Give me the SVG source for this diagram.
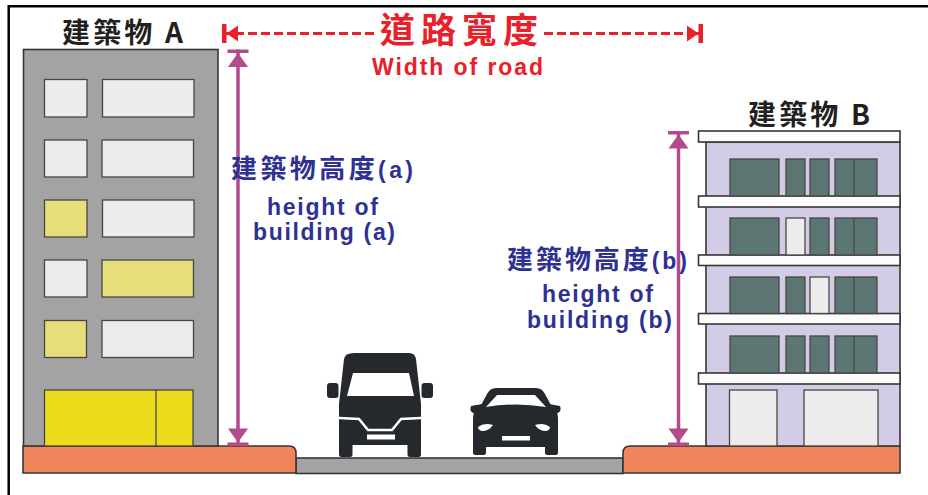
<svg xmlns="http://www.w3.org/2000/svg" width="928" height="495" viewBox="0 0 928 495">
  <style>
    .outline { stroke: #3a3535; stroke-width: 1.6; }
    .win { stroke: #4a4545; stroke-width: 1.3; }
    .w-white { fill: #ececec; }
    .w-pale { fill: #e6de7b; }
    .w-teal { fill: #5b7673; }
    .slab { fill: #fcfcfc; stroke: #3a3535; stroke-width: 1.6; }
    .walk { fill: #f0845a; stroke: #3a3535; stroke-width: 1.6; }
    .vehicle { fill: #25282d; }
    .title { font-family: "Noto Sans CJK TC", "Noto Sans", sans-serif; font-weight: 700; font-size: 28px; fill: #231f20; }
    .road-cn { font-family: "Noto Sans CJK TC", sans-serif; font-weight: 700; font-size: 35px; fill: #e8202a; }
    .road-en { font-family: "Liberation Sans", "Noto Sans", sans-serif; font-weight: 700; font-size: 23px; fill: #e8202a; }
    .h-cn { font-family: "Noto Sans CJK TC", sans-serif; font-weight: 700; font-size: 26px; fill: #2e3192; }
    .h-en { font-family: "Liberation Sans", "Noto Sans", sans-serif; font-weight: 700; font-size: 23px; fill: #2e3192; }
    .dim { stroke: #b24a8b; stroke-width: 3.5; fill: none; }
    .width-line { stroke: #e8202a; stroke-width: 3; stroke-dasharray: 9 4; fill: none; }
  </style>
  <defs>
    <marker id="dim-end" markerUnits="userSpaceOnUse" markerWidth="24" markerHeight="24" viewBox="-20 -12 22 24" refX="0" refY="0" orient="auto-start-reverse" overflow="visible">
      <rect x="-3.5" y="-10.5" width="3.5" height="21" fill="#b24a8b"/>
      <path d="M-3.5,0 L-17.5,-10 L-17.5,10 Z" fill="#b24a8b"/>
    </marker>
    <marker id="road-end" markerUnits="userSpaceOnUse" markerWidth="24" markerHeight="24" viewBox="-20 -12 22 24" refX="0" refY="0" orient="auto-start-reverse" overflow="visible">
      <rect x="-4.5" y="-9.5" width="4.5" height="19" fill="#e8202a"/>
      <path d="M-4.5,0 L-16,-8 L-16,8 Z" fill="#e8202a"/>
    </marker>
  </defs>

  <rect width="928" height="495" fill="#ffffff"/>
  <!-- frame -->
  <path d="M8.7,495 V6.2 H928" fill="none" stroke="#000" stroke-width="2.5"/>

  <!-- road surface and sidewalks -->
  <g id="road">
    <rect x="296" y="458" width="327" height="15.5" fill="#a3a3a3" stroke="#3a3535" stroke-width="1.6"/>
    <path class="walk" d="M23,446 H289 Q296,446 296,453 V473 H23 Z"/>
    <path class="walk" d="M623,473 V453 Q623,446 630,446 H900 V473 Z"/>
  </g>

  <!-- building A -->
  <g id="building-a">
    <rect x="23.5" y="49.5" width="194.5" height="396.5" fill="#a3a3a3" class="outline"/>
    <rect class="win w-white" x="44.5" y="79.5" width="42.5" height="37.5"/>
    <rect class="win w-white" x="102.5" y="79.5" width="91.5" height="37.5"/>
    <rect class="win w-white" x="44.5" y="140" width="42.5" height="37"/>
    <rect class="win w-white" x="102" y="140" width="91.5" height="37"/>
    <rect class="win w-pale" x="44.5" y="200" width="42.5" height="37"/>
    <rect class="win w-white" x="102.5" y="200" width="91.5" height="37"/>
    <rect class="win w-white" x="44.5" y="260" width="42.5" height="37"/>
    <rect class="win w-pale" x="102" y="260" width="91.5" height="37"/>
    <rect class="win w-pale" x="44.5" y="320.5" width="42" height="37"/>
    <rect class="win w-white" x="102" y="320.5" width="91.5" height="37"/>
    <rect class="win" x="44.5" y="390" width="148.5" height="56" fill="#ecdc1c"/>
    <line x1="156" y1="390" x2="156" y2="446" stroke="#4a4545" stroke-width="1.3"/>
  </g>

  <!-- building B -->
  <g id="building-b">
    <rect x="706" y="142" width="194" height="304" fill="#d2cce6" class="outline"/>
    <rect class="slab" x="698.5" y="131" width="201.5" height="11"/>
    <rect class="slab" x="698.5" y="196" width="201.5" height="11"/>
    <rect class="slab" x="698.5" y="255" width="201.5" height="10.5"/>
    <rect class="slab" x="698.5" y="313.5" width="201.5" height="10.5"/>
    <rect class="slab" x="698.5" y="373" width="201.5" height="11"/>
    <!-- floor 4 -->
    <rect class="win w-teal" x="730" y="159" width="49" height="37"/>
    <rect class="win w-teal" x="786" y="159" width="19" height="37"/>
    <rect class="win w-teal" x="810" y="159" width="19" height="37"/>
    <rect class="win w-teal" x="835" y="159" width="42" height="37"/>
    <line x1="854" y1="159" x2="854" y2="196" stroke="#4a4545" stroke-width="1.2"/>
    <!-- floor 3 -->
    <rect class="win w-teal" x="730" y="218" width="49" height="37"/>
    <rect class="win w-white" x="786" y="218" width="19" height="37"/>
    <rect class="win w-teal" x="810" y="218" width="19" height="37"/>
    <rect class="win w-teal" x="835" y="218" width="42" height="37"/>
    <line x1="854" y1="218" x2="854" y2="255" stroke="#4a4545" stroke-width="1.2"/>
    <!-- floor 2 -->
    <rect class="win w-teal" x="730" y="277" width="49" height="36.5"/>
    <rect class="win w-teal" x="786" y="277" width="19" height="36.5"/>
    <rect class="win w-white" x="810" y="277" width="19" height="36.5"/>
    <rect class="win w-teal" x="835" y="277" width="42" height="36.5"/>
    <line x1="854" y1="277" x2="854" y2="313.5" stroke="#4a4545" stroke-width="1.2"/>
    <!-- floor 1 -->
    <rect class="win w-teal" x="730" y="336" width="49" height="37"/>
    <rect class="win w-teal" x="786" y="336" width="19" height="37"/>
    <rect class="win w-teal" x="810" y="336" width="19" height="37"/>
    <rect class="win w-teal" x="835" y="336" width="42" height="37"/>
    <line x1="854" y1="336" x2="854" y2="373" stroke="#4a4545" stroke-width="1.2"/>
    <!-- ground floor doors -->
    <rect class="win w-white" x="729.5" y="390" width="47.5" height="56"/>
    <rect class="win w-white" x="804" y="390" width="74" height="56"/>
  </g>

  <!-- van -->
  <g id="van" class="vehicle">
    <path d="M354,353 H409 Q415,353 416,359 L421,404 V440 Q421,445 416,445 H344 Q339,445 339,440 V404 L344,359 Q345,353 354,353 Z"/>
    <rect x="339" y="436" width="13.5" height="21" rx="2.5"/>
    <rect x="407.5" y="436" width="13.5" height="21" rx="2.5"/>
    <rect x="327" y="383" width="11.5" height="15" rx="3"/>
    <rect x="421.5" y="383" width="11.5" height="15" rx="3"/>
    <path d="M353,373 H409 L414,396 H347 Z" fill="#ffffff"/>
    <polyline points="339,418 359,419 368,430 392,430 401,419 421,418" fill="none" stroke="#ffffff" stroke-width="2.5"/>
    <rect x="367" y="434.5" width="28" height="5" fill="#ffffff"/>
  </g>

  <!-- car -->
  <g id="car" class="vehicle">
    <path d="M496,388 H536 Q542,388 545,394 L552,407 Q558,410 558,418 V442 Q558,447 553,447 H478 Q473,447 473,442 V418 Q473,410 480,407 L487,394 Q490,388 496,388 Z"/>
    <rect x="473" y="440" width="13" height="15" rx="2.5"/>
    <rect x="545" y="440" width="13" height="15" rx="2.5"/>
    <path d="M471,406 L482,404 L485,412 L473,413 Q469,411 471,406 Z"/>
    <path d="M560,406 L549,404 L546,412 L558,413 Q562,411 560,406 Z"/>
    <path d="M497,395 H535 L546,407 Q516,402 486,407 Z" fill="#ffffff"/>
    <path d="M478,427 Q484,422 493,425 Q489,431 482,431 Q478,430 478,427 Z" fill="#ffffff"/>
    <path d="M550,427 Q544,422 535,425 Q539,431 546,431 Q550,430 550,427 Z" fill="#ffffff"/>
    <rect x="502" y="436" width="28" height="4.5" fill="#ffffff"/>
  </g>

  <!-- dimension lines -->
  <g id="connectors">
    <line class="width-line" x1="222" y1="33.5" x2="376" y2="33.5"/>
    <line class="width-line" x1="544" y1="33.5" x2="702" y2="33.5"/>
    <line x1="232" y1="33.5" x2="222" y2="33.5" stroke="#e8202a" stroke-width="3" marker-end="url(#road-end)"/>
    <line x1="690" y1="33.5" x2="703" y2="33.5" stroke="#e8202a" stroke-width="3" marker-end="url(#road-end)"/>
    <line class="dim" x1="238" y1="49.5" x2="238" y2="446" marker-start="url(#dim-end)" marker-end="url(#dim-end)"/>
    <line class="dim" x1="678.5" y1="131" x2="678.5" y2="446" marker-start="url(#dim-end)" marker-end="url(#dim-end)"/>
  </g>

  <!-- labels -->
  <g id="labels">
    <text class="title" x="62" y="42.5" textLength="121" lengthAdjust="spacing">建築物 A</text>
    <text class="title" x="748" y="124.5" textLength="122" lengthAdjust="spacing">建築物 B</text>
    <text class="road-cn" x="380" y="43" textLength="158" lengthAdjust="spacing">道路寬度</text>
    <text class="road-en" x="372" y="75" textLength="171" lengthAdjust="spacing">Width of road</text>
    <text class="h-cn" x="231" y="178" textLength="182" lengthAdjust="spacing">建築物高度<tspan font-family="Liberation Sans, sans-serif" font-size="23">(a)</tspan></text>
    <text class="h-en" x="267" y="215" textLength="111" lengthAdjust="spacing">height of</text>
    <text class="h-en" x="253" y="240" textLength="142" lengthAdjust="spacing">building (a)</text>
    <text class="h-cn" x="507" y="269" textLength="180" lengthAdjust="spacing">建築物高度<tspan font-family="Liberation Sans, sans-serif" font-size="23">(b)</tspan></text>
    <text class="h-en" x="542" y="302" textLength="111" lengthAdjust="spacing">height of</text>
    <text class="h-en" x="527" y="328" textLength="145" lengthAdjust="spacing">building (b)</text>
  </g>
</svg>
